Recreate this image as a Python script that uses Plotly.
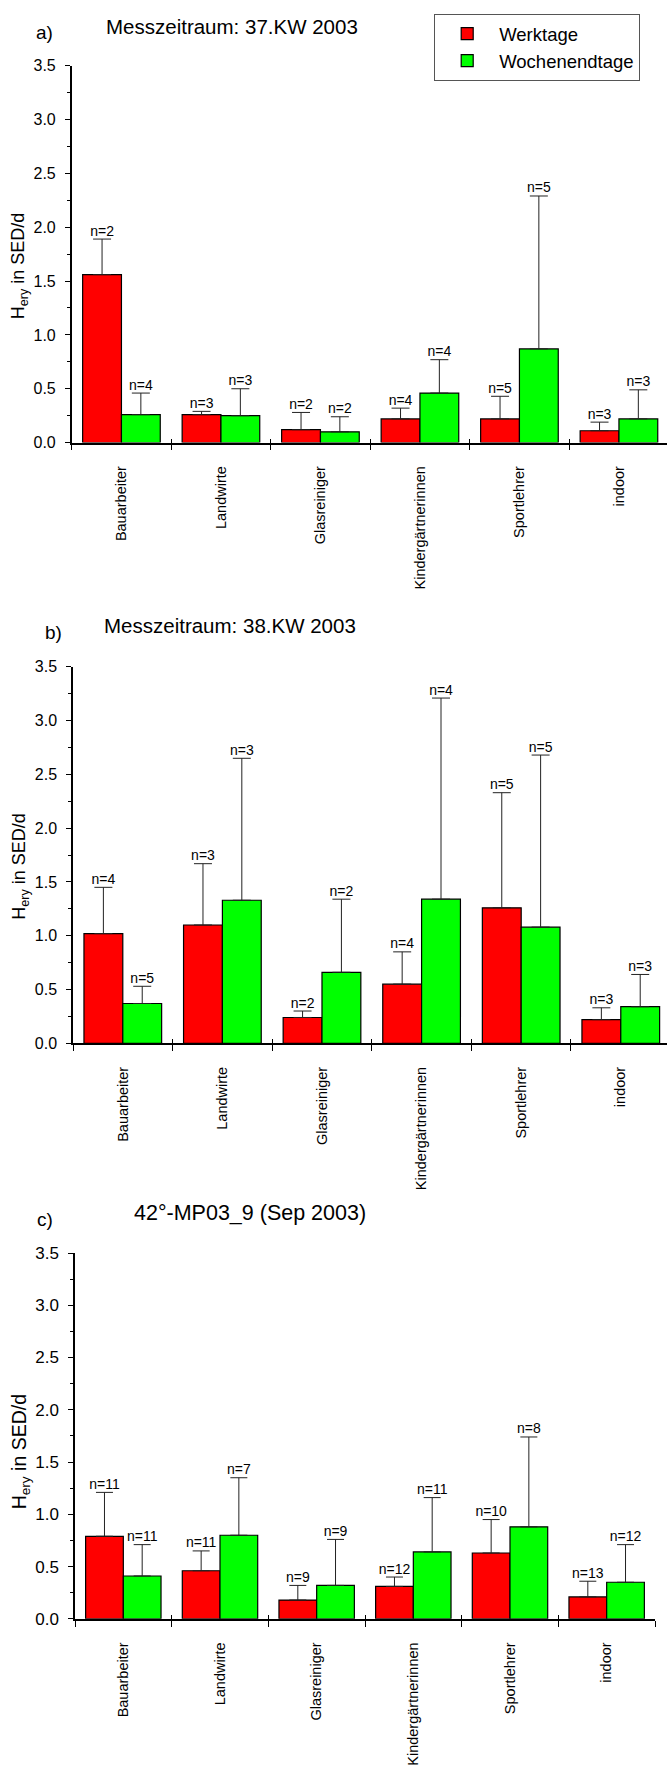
import plotly.graph_objects as go

# ---------------- data ----------------
categories = ["Bauarbeiter", "Landwirte", "Glasreiniger", "Kindergärtnerinnen", "Sportlehrer", "indoor"]
series_names = ["Werktage", "Wochenendtage"]
y_ticks = [0.0, 0.5, 1.0, 1.5, 2.0, 2.5, 3.0, 3.5]

title_a = "Messzeitraum: 37.KW 2003"
a_werk = [1.56, 0.26, 0.12, 0.22, 0.22, 0.11]
a_werk_sd = [0.33, 0.03, 0.16, 0.10, 0.21, 0.08]
a_werk_n = [2, 3, 2, 4, 5, 3]
a_woch = [0.26, 0.25, 0.10, 0.46, 0.87, 0.22]
a_woch_sd = [0.20, 0.25, 0.14, 0.31, 1.42, 0.27]
a_woch_n = [4, 3, 2, 4, 5, 3]

title_b = "Messzeitraum: 38.KW 2003"
b_werk = [1.02, 1.10, 0.24, 0.55, 1.26, 0.22]
b_werk_sd = [0.43, 0.57, 0.06, 0.30, 1.07, 0.11]
b_werk_n = [4, 3, 2, 4, 5, 3]
b_woch = [0.37, 1.33, 0.66, 1.34, 1.08, 0.34]
b_woch_sd = [0.16, 1.32, 0.68, 1.87, 1.60, 0.30]
b_woch_n = [5, 3, 2, 4, 5, 3]

title_c = "42°-MP03_9 (Sep 2003)"
c_werk = [0.79, 0.46, 0.18, 0.31, 0.63, 0.21]
c_werk_sd = [0.42, 0.19, 0.14, 0.09, 0.32, 0.15]
c_werk_n = [11, 11, 9, 12, 10, 13]
c_woch = [0.41, 0.80, 0.32, 0.64, 0.88, 0.35]
c_woch_sd = [0.30, 0.55, 0.44, 0.52, 0.86, 0.36]
c_woch_n = [11, 7, 9, 11, 8, 12]

# ---------------- layout constants ----------------
W, H = 667, 1772
FONT = "Liberation Sans, Arial, sans-serif"
RED, GREEN = "#FF0000", "#00FF00"
BW = 0.39

panels = [
    dict(lab="a)", title=title_a, werk=a_werk, werk_sd=a_werk_sd, werk_n=a_werk_n,
         woch=a_woch, woch_sd=a_woch_sd, woch_n=a_woch_n,
         x0=71.7, x1=667, xr=(-0.5, 5.483), ytop=57.3, ybot=438.3,
         lab_xy=(44, 23.5), lab_fs=19, tit_xy=(104, 18), tit_fs=20.5,
         yt_xy=(19, 260), yt_fs=18, nfs=14, tfs=16, cfs=14.5, cap=9),
    dict(lab="b)", title=title_b, werk=b_werk, werk_sd=b_werk_sd, werk_n=b_werk_n,
         woch=b_woch, woch_sd=b_woch_sd, woch_n=b_woch_n,
         x0=73.0, x1=667, xr=(-0.5, 5.464), ytop=665.0, ybot=1045.5,
         lab_xy=(54, 630), lab_fs=19, tit_xy=(102, 623), tit_fs=20.5,
         yt_xy=(21, 867), yt_fs=18, nfs=14, tfs=16, cfs=14.5, cap=9),
    dict(lab="c)", title=title_c, werk=c_werk, werk_sd=c_werk_sd, werk_n=c_werk_n,
         woch=c_woch, woch_sd=c_woch_sd, woch_n=c_woch_n,
         x0=75.0, x1=655, xr=(-0.5, 5.5), ytop=1257.5, ybot=1627.3,
         lab_xy=(44.5, 1224), lab_fs=19, tit_xy=(132, 1217.5), tit_fs=21.5,
         yt_xy=(20, 1459), yt_fs=19.5, nfs=14, tfs=17, cfs=14.5, cap=8.5),
]

idx = list(range(len(categories)))
bounds = [i - 0.5 for i in range(len(categories) + 1)]

fig = go.Figure()
layout = {}
annotations = []


def key(a, n):
    return f"{a}axis" if n == 1 else f"{a}axis{n}"


for k, p in enumerate(panels, start=1):
    xa = "x" if k == 1 else f"x{k}"
    ya = "y" if k == 1 else f"y{k}"
    xo_in = f"x{k + 3}"
    for name, vals, sds, ns, col, off in [
        (series_names[0], p["werk"], p["werk_sd"], p["werk_n"], RED, -BW),
        (series_names[1], p["woch"], p["woch_sd"], p["woch_n"], GREEN, 0.0),
    ]:
        fig.add_trace(go.Bar(
            x=idx, y=vals, width=BW, offset=off, name=name,
            showlegend=(k == 1), legendgroup=name,
            marker=dict(color=col, line=dict(color="black", width=1.2)),
            error_y=dict(type="data", symmetric=False, array=sds,
                         arrayminus=[0] * len(sds), color="#222222",
                         thickness=1, width=p["cap"]),
            xaxis=xa, yaxis=ya, hoverinfo="skip",
        ))
        fig.add_trace(go.Scatter(
            x=[i + off + BW / 2 for i in idx],
            y=[v + s for v, s in zip(vals, sds)],
            mode="text", text=[f"n={n}" for n in ns], textposition="top center",
            textfont=dict(family=FONT, size=p["nfs"], color="black"),
            showlegend=False, hoverinfo="skip", cliponaxis=False,
            xaxis=xa, yaxis=ya,
        ))
    # invisible trace carrying the overlay axis for the inner half of the x ticks
    fig.add_trace(go.Scatter(x=[None], y=[None], mode="markers",
                             showlegend=False, hoverinfo="skip",
                             xaxis=xo_in, yaxis=ya))

    xdom = [p["x0"] / W, p["x1"] / W]
    ydom = [1 - p["ybot"] / H, 1 - p["ytop"] / H]
    layout[key("x", k)] = dict(
        domain=xdom, range=list(p["xr"]), anchor=ya,
        tickmode="array", tickvals=idx, ticktext=categories, tickangle=-90,
        ticks="", showline=True, linecolor="black", linewidth=1.5,
        showgrid=False, zeroline=False, ticklabelstandoff=16,
        tickfont=dict(family=FONT, size=p["cfs"], color="black"),
        minor=dict(tickmode="array", tickvals=bounds, ticks="outside",
                   ticklen=6, tickwidth=1.3, tickcolor="black", showgrid=False),
    )
    layout[key("x", k + 3)] = dict(
        domain=xdom, range=list(p["xr"]), anchor=ya, overlaying=xa, side="bottom",
        tickmode="array", tickvals=bounds, ticks="inside", ticklen=4,
        tickwidth=1.3, tickcolor="black", showticklabels=False,
        showline=False, showgrid=False, zeroline=False,
    )
    layout[key("y", k)] = dict(
        domain=ydom, range=[0, 3.5], anchor=xa,
        tickmode="array", tickvals=y_ticks, ticktext=[f"{t:.1f}" for t in y_ticks],
        ticks="outside", ticklen=5, tickwidth=1.3, tickcolor="black",
        minor=dict(tickmode="linear", tick0=0, dtick=0.25, ticks="outside",
                   ticklen=3, tickwidth=1, tickcolor="black"),
        showline=True, linecolor="black", linewidth=1.5,
        showgrid=False, zeroline=False, ticklabelstandoff=6,
        tickfont=dict(family=FONT, size=p["tfs"], color="black"),
    )

    annotations.append(dict(
        text=p["lab"], xref="paper", yref="paper",
        x=p["lab_xy"][0] / W, y=1 - p["lab_xy"][1] / H,
        xanchor="center", yanchor="middle", showarrow=False,
        font=dict(family=FONT, size=p["lab_fs"], color="black")))
    annotations.append(dict(
        text=p["title"], xref="paper", yref="paper",
        x=p["tit_xy"][0] / W, y=1 - p["tit_xy"][1] / H,
        xanchor="left", yanchor="middle", showarrow=False,
        font=dict(family=FONT, size=p["tit_fs"], color="black")))
    annotations.append(dict(
        text="H<sub>ery</sub> in SED/d", xref="paper", yref="paper",
        x=p["yt_xy"][0] / W, y=1 - p["yt_xy"][1] / H, textangle=-90,
        xanchor="center", yanchor="middle", showarrow=False,
        font=dict(family=FONT, size=p["yt_fs"], color="black")))

fig.update_layout(
    width=W, height=H, margin=dict(l=0, r=0, t=0, b=0),
    paper_bgcolor="white", plot_bgcolor="white",
    barmode="overlay", annotations=annotations,
    font=dict(family=FONT, color="black"),
    legend=dict(x=434 / W, y=1 - 5 / H, xanchor="left", yanchor="top",
                bgcolor="white", bordercolor="#555555", borderwidth=1.2,
                font=dict(family=FONT, size=18.5, color="black"),
                itemwidth=54, tracegroupgap=0),
    **layout,
)

fig.write_html("out.html")
